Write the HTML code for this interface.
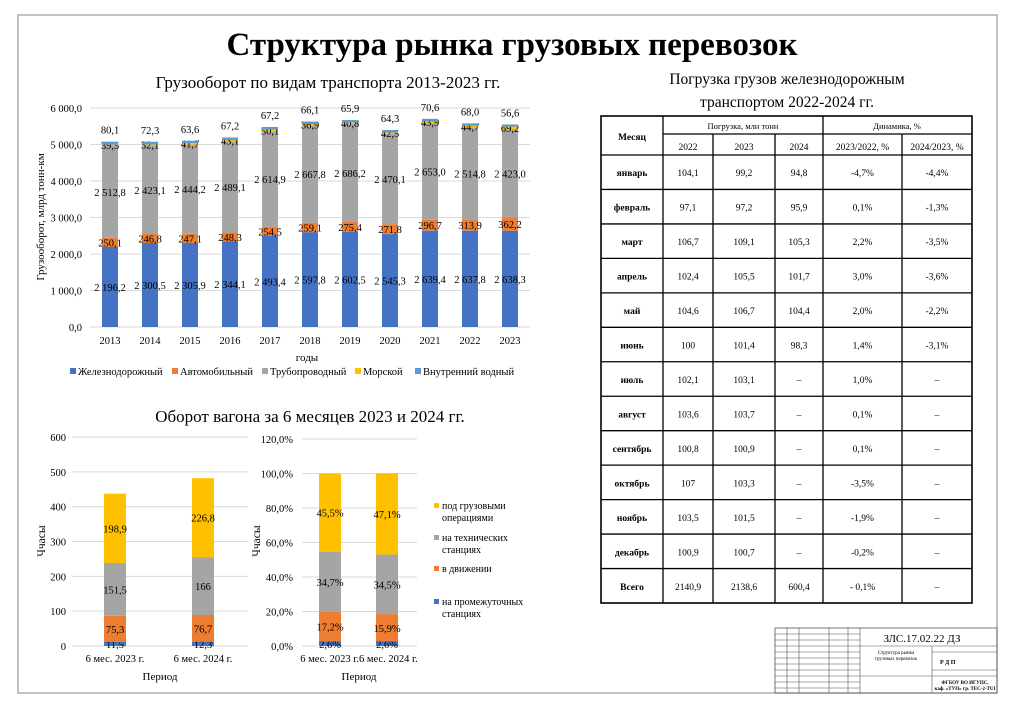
<!DOCTYPE html>
<html><head><meta charset="utf-8"><style>
body{margin:0;width:1024px;height:723px;background:#fff;overflow:hidden;font-family:"Liberation Serif",serif;}
svg{position:absolute;left:0;top:0}
</style></head><body>
<svg width="1024" height="723" font-family="Liberation Serif, serif">
<rect x="18" y="15" width="979" height="678" fill="none" stroke="#999" stroke-width="1.2"/>
<text x="512" y="55" text-anchor="middle" font-size="33" font-weight="bold">Структура рынка грузовых перевозок</text>
<g id="main"></g>
<g id="left"></g>
<g id="right"></g>
<g id="tbl"></g>
<g id="stamp"></g>
</svg>
<script>
const years=['2013','2014','2015','2016','2017','2018','2019','2020','2021','2022','2023'];
const rail=[2196.2,2300.5,2305.9,2344.1,2493.4,2597.8,2602.5,2545.3,2639.4,2637.8,2638.3];
const auto=[250.1,246.8,247.1,248.3,254.5,259.1,275.4,271.8,296.7,313.9,362.2];
const pipe=[2512.8,2423.1,2444.2,2489.1,2614.9,2667.8,2686.2,2470.1,2653.0,2514.8,2423.0];
const sea=[39.5,32.1,41.7,43.1,50.1,36.9,40.8,42.5,43.9,44.7,69.2];
const water=[80.1,72.3,63.6,67.2,67.2,66.1,65.9,64.3,70.6,68.0,56.6];
const mainTicks=[0,1000,2000,3000,4000,5000,6000];
const periods=['6 мес. 2023 г.','6 мес. 2024 г.'];
const hInter=[11.5,12.3],hMove=[75.3,76.7],hTech=[151.5,166],hCargo=[198.9,226.8];
const hTicks=[0,100,200,300,400,500,600];
const pInter=[2.6,2.6],pMove=[17.2,15.9],pTech=[34.7,34.5],pCargo=[45.5,47.1];
const pTicks=[0,20,40,60,80,100,120];
const NS='http://www.w3.org/2000/svg';
const C={blue:'#4472c4',orange:'#ed7d31',gray:'#a5a5a5',yellow:'#ffc000',lblue:'#5b9bd5'};
function el(p,t,a,txt){const e=document.createElementNS(NS,t);for(const k in a)e.setAttribute(k,a[k]);if(txt!==undefined)e.textContent=txt;p.appendChild(e);return e;}
function fmt(v,d){let s=v.toFixed(d).replace('.',',');let [i,f]=s.split(',');if(i.length>3)i=i.slice(0,-3)+' '+i.slice(-3);return f!==undefined?i+','+f:i;}
(function(){const g=document.getElementById('main');
const y0=327,yTop=108,max=6000,sy=v=>y0-(v/max)*(y0-yTop);const x0=90,step=40,sx=i=>x0+20+i*step;
el(g,'text',{x:328,y:88,'text-anchor':'middle','font-size':17},'Грузооборот по видам транспорта 2013-2023 гг.');
mainTicks.forEach(t=>{const l=el(g,'line',{x1:x0,x2:530,y1:sy(t),y2:sy(t),stroke:'#d9d9d9'});
const tx=el(g,'text',{x:82,y:sy(t)+4,'text-anchor':'end','font-size':10.5},fmt(t,1));});
const ya=el(g,'text',{transform:'translate(44,217) rotate(-90)','text-anchor':'middle','font-size':11},'Грузооборот, млрд тонн-км');
years.forEach((yr,i)=>{const cx=sx(i),w=16;let acc=0;
[[rail,C.blue],[auto,C.orange],[pipe,C.gray],[sea,C.yellow],[water,C.lblue]].forEach(([arr,col],k)=>{const v=arr[i];const r=el(g,'rect',{x:cx-w/2,y:sy(acc+v),width:w,height:sy(acc)-sy(acc+v),fill:col});
let ly;if(k<3)ly=(sy(acc)+sy(acc+v))/2+4;else if(k==3)ly=sy(acc)+3;else ly=sy(acc+v)-8;
const t=el(g,'text',{x:cx,y:ly,'text-anchor':'middle','font-size':10.5},fmt(v,1));acc+=v;});
const xl=el(g,'text',{x:cx,y:344,'text-anchor':'middle','font-size':10.5},yr);});
const xt=el(g,'text',{x:307,y:361,'text-anchor':'middle','font-size':11},'годы');
[['Железнодорожный',C.blue,70],['Автомобильный',C.orange,172],['Трубопроводный',C.gray,262],['Морской',C.yellow,355],['Внутренний водный',C.lblue,415]].forEach(([n,c,x])=>{const s=el(g,'rect',{x:x,y:368,width:6,height:6,fill:c});
const t=el(g,'text',{x:x+8,y:375,'font-size':10.5},n);});})();
(function(){const g=document.getElementById('left');
el(g,'text',{x:310,y:422,'text-anchor':'middle','font-size':17},'Оборот вагона за 6 месяцев 2023 и 2024 гг.');
const y0=646,yT=437,sy=v=>y0-v/600*(y0-yT),sx=i=>115+i*88;
hTicks.forEach(t=>{const l=el(g,'line',{x1:72,x2:248,y1:sy(t),y2:sy(t),stroke:'#d9d9d9'});
const tx=el(g,'text',{x:66,y:sy(t)+4,'text-anchor':'end','font-size':10.5},String(t));});
el(g,'text',{transform:'translate(45,541) rotate(-90)','text-anchor':'middle','font-size':11.5},'Ччасы');
periods.forEach((p,i)=>{let acc=0;[[hInter,C.blue],[hMove,C.orange],[hTech,C.gray],[hCargo,C.yellow]].forEach(([a,c])=>{const v=a[i];const r=el(g,'rect',{x:sx(i)-11,y:sy(acc+v),width:22,height:sy(acc)-sy(acc+v),fill:c});
const t=el(g,'text',{x:sx(i),y:(sy(acc)+sy(acc+v))/2+4,'text-anchor':'middle','font-size':10.5},String(v).replace('.',','));acc+=v;});
const xl=el(g,'text',{x:sx(i),y:662,'text-anchor':'middle','font-size':10.5},p);});
el(g,'text',{x:160,y:680,'text-anchor':'middle','font-size':11},'Период');})();
(function(){const g=document.getElementById('right');
const y0=646,yT=439,sy=v=>y0-v/120*(y0-yT),sx=i=>330+i*57;
pTicks.forEach(t=>{const l=el(g,'line',{x1:302,x2:417,y1:sy(t),y2:sy(t),stroke:'#d9d9d9'});
const tx=el(g,'text',{x:293,y:sy(t)+4,'text-anchor':'end','font-size':10.5},t.toFixed(1).replace('.',',')+'%');});
el(g,'text',{transform:'translate(260,541) rotate(-90)','text-anchor':'middle','font-size':11.5},'Ччасы');
periods.forEach((p,i)=>{let acc=0;[[pInter,C.blue],[pMove,C.orange],[pTech,C.gray],[pCargo,C.yellow]].forEach(([a,c])=>{const v=a[i];const r=el(g,'rect',{x:sx(i)-11,y:sy(acc+v),width:22,height:sy(acc)-sy(acc+v),fill:c});
const t=el(g,'text',{x:sx(i),y:(sy(acc)+sy(acc+v))/2+4,'text-anchor':'middle','font-size':10.5},v.toFixed(1).replace('.',',')+'%');acc+=v;});});
el(g,'text',{x:359,y:662,'text-anchor':'middle','font-size':10.5},'6 мес. 2023 г.6 мес. 2024 г.');
el(g,'text',{x:359,y:680,'text-anchor':'middle','font-size':11},'Период');
[[['под грузовыми','операциями'],C.yellow,509],[['на технических','станциях'],C.gray,541],[['в движении'],C.orange,572],[['на промежуточных','станциях'],C.blue,605]].forEach(([ls,c,y])=>{const s=el(g,'rect',{x:434,y:y-6,width:5,height:5,fill:c});
ls.forEach((l,k)=>{const t=el(g,'text',{x:442,y:y+k*12,'font-size':10},l);});});})();
(function(){const g=document.getElementById('tbl');
el(g,'text',{x:787,y:84,'text-anchor':'middle','font-size':15.5},'Погрузка грузов железнодорожным');
el(g,'text',{x:787,y:107,'text-anchor':'middle','font-size':15.5},'транспортом 2022-2024 гг.');
const xs=[601,663,713,775,823,902,972];const top=116,h1=134,h2=155,bot=603;const rh=(bot-h2)/13;
const rows=[['январь','104,1','99,2','94,8','-4,7%','-4,4%'],['февраль','97,1','97,2','95,9','0,1%','-1,3%'],['март','106,7','109,1','105,3','2,2%','-3,5%'],['апрель','102,4','105,5','101,7','3,0%','-3,6%'],['май','104,6','106,7','104,4','2,0%','-2,2%'],['июнь','100','101,4','98,3','1,4%','-3,1%'],['июль','102,1','103,1','–','1,0%','–'],['август','103,6','103,7','–','0,1%','–'],['сентябрь','100,8','100,9','–','0,1%','–'],['октябрь','107','103,3','–','-3,5%','–'],['ноябрь','103,5','101,5','–','-1,9%','–'],['декабрь','100,9','100,7','–','-0,2%','–'],['Всего','2140,9','2138,6','600,4','- 0,1%','–']];
const S={stroke:'#000','stroke-width':1.3};
el(g,'rect',Object.assign({x:601,y:top,width:371,height:bot-top,fill:'none','stroke-width':1.6,stroke:'#000'}));
el(g,'line',Object.assign({x1:663,x2:972,y1:h1,y2:h1},S));
for(let r=0;r<=12;r++)el(g,'line',Object.assign({x1:601,x2:972,y1:h2+r*rh,y2:h2+r*rh},S));
xs.slice(1,-1).forEach((x,k)=>{const y1=(k==1||k==2||k==4)?h1:top;el(g,'line',Object.assign({x1:x,x2:x,y1:y1,y2:bot},S));});
el(g,'text',{x:632,y:140,'text-anchor':'middle','font-size':9.5,'font-weight':'bold'},'Месяц');
el(g,'text',{x:743,y:129,'text-anchor':'middle','font-size':8.5},'Погрузка, млн тонн');
el(g,'text',{x:897,y:129,'text-anchor':'middle','font-size':8.5},'Динамика, %');
['2022','2023','2024','2023/2022, %','2024/2023, %'].forEach((t,k)=>el(g,'text',{x:(xs[k+1]+xs[k+2])/2,y:150,'text-anchor':'middle','font-size':9.5},t));
rows.forEach((r,i)=>r.forEach((c,k)=>{const t=el(g,'text',{x:(xs[k]+xs[k+1])/2,y:h2+i*rh+rh/2+4,'text-anchor':'middle','font-size':9.5,'font-weight':k==0?'bold':'normal'},c);}));})();
(function(){const g=document.getElementById('stamp');const S={stroke:'#555','stroke-width':0.6};
el(g,'rect',{x:775,y:628,width:222,height:65,fill:'none',stroke:'#555','stroke-width':0.8});
[634,640,646,652,658,664,670,676,682,688].forEach(y=>el(g,'line',Object.assign({x1:775,x2:860,y1:y,y2:y},S)));
[787,799,829,848,860].forEach(x=>el(g,'line',Object.assign({x1:x,x2:x,y1:628,y2:693},S)));
el(g,'line',Object.assign({x1:860,x2:997,y1:646,y2:646},S));
el(g,'line',Object.assign({x1:860,x2:997,y1:676,y2:676},S));
el(g,'line',Object.assign({x1:932,x2:932,y1:646,y2:693},S));
el(g,'line',Object.assign({x1:932,x2:997,y1:652,y2:652},S));
el(g,'line',Object.assign({x1:932,x2:997,y1:670,y2:670},S));
el(g,'text',{x:922,y:642,'text-anchor':'middle','font-size':11},'ЗЛС.17.02.22 ДЗ');
el(g,'text',{x:896,y:654,'text-anchor':'middle','font-size':5},'Структура рынка');
el(g,'text',{x:896,y:660,'text-anchor':'middle','font-size':5},'грузовых перевозок');
el(g,'text',{x:940,y:664,'font-size':6,'font-weight':'bold'},'Р Д П');
el(g,'text',{x:965,y:684,'text-anchor':'middle','font-size':5,'font-weight':'bold'},'ФГБОУ ВО ИГУПС,');
el(g,'text',{x:965,y:690,'text-anchor':'middle','font-size':5,'font-weight':'bold'},'каф. «ТУП» гр. ТЕС-2-TUI');})();
</script>
</body></html>
